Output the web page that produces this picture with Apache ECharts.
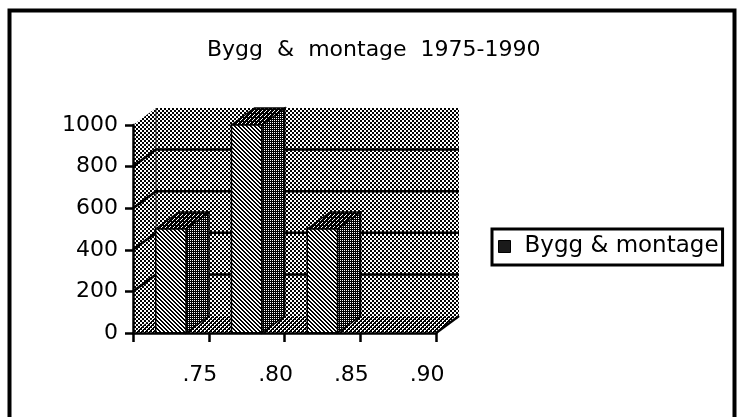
<!DOCTYPE html>
<html><head><meta charset="utf-8">
<script src="https://cdn.jsdelivr.net/npm/echarts@6/dist/echarts.min.js"></script>
<style>html,body{margin:0;padding:0;background:#fff}#c{width:739px;height:417px}</style>
</head><body><div id="c"></div>
<script>
// ---- data ----
const categories = ['.75', '.80', '.85', '.90'];
const values = [500, 1000, 500, 0];
const yMin = 0, yMax = 1000, yStep = 200;
const wallGridValues = [200, 400, 600, 800];
const seriesName = 'Bygg & montage';
const titleText = 'Bygg  &  montage  1975-1990';

// ---- style ----
const FONT = 'DejaVu Sans';
const DX = 23, DY = -17;      // 3D depth offset (pixels)
const BAR_RATIO = 0.4;

function tile(w, h, fn) {
  const c = document.createElement('canvas'); c.width = w; c.height = h;
  const g = c.getContext('2d');
  g.fillStyle = '#fff'; g.fillRect(0, 0, w, h);
  g.fillStyle = '#000';
  for (let y = 0; y < h; y++) for (let x = 0; x < w; x++) if (fn(x, y)) g.fillRect(x, y, 1, 1);
  return { image: c, repeat: 'repeat' };
}
const wallPat  = tile(4, 4, (x, y) => (x < 2) === (y < 2));
const floorPat = tile(4, 4, (x, y) => ((x < 2) === (y < 2)) || (x === 3 && y === 1) || (x === 1 && y === 3));
const frontPat = tile(4, 4, (x, y) => { const d = ((x - y) % 4 + 4) % 4; return d === 0 || d === 1; });
const sidePat  = tile(2, 2, (x, y) => !(x === 0 && y === 0));
const topPat   = tile(4, 4, (x, y) => !((x === 0 && y === 0) || (x === 2 && y === 2) || (x === 1 && y === 3)));

const chart = echarts.init(document.getElementById('c'), null, { renderer: 'canvas' });

function wallsRender(params, api) {
  const band = api.size([1, 0])[0];
  const n = categories.length;
  const L = api.coord([0, yMin])[0] - band / 2;
  const R = api.coord([n - 1, yMin])[0] + band / 2;
  const y0 = api.coord([0, yMin])[1];
  const yt = api.coord([0, yMax])[1];
  const children = [];
  children.push({ type: 'polygon', shape: { points: [[L, y0], [L, yt], [L + DX, yt + DY], [L + DX, y0 + DY]] }, style: { fill: wallPat, stroke: null } });
  children.push({ type: 'rect', shape: { x: L + DX, y: yt + DY, width: R - L, height: y0 - yt }, style: { fill: wallPat, stroke: null } });
  children.push({ type: 'polygon', shape: { points: [[L, y0], [R, y0], [R + DX, y0 + DY], [L + DX, y0 + DY]] }, style: { fill: floorPat, stroke: null } });
  children.push({ type: 'line', shape: { x1: L + DX, y1: yt + DY, x2: L + DX, y2: y0 + DY }, style: { stroke: '#333', lineWidth: 1 } });
  wallGridValues.forEach(v => {
    const yv = api.coord([0, v])[1];
    children.push({ type: 'polyline', shape: { points: [[L, yv], [L + DX, yv + DY], [R + DX, yv + DY]] }, style: { stroke: '#000', lineWidth: 2.5, fill: null } });
  });
  children.push({ type: 'line', shape: { x1: R, y1: y0, x2: R + DX, y2: y0 + DY }, style: { stroke: '#000', lineWidth: 2.5 } });
  return { type: 'group', children };
}

function barRender(params, api) {
  const v = api.value(1);
  if (!v) return null;
  const i = api.value(0);
  const band = api.size([1, 0])[0];
  const w = band * BAR_RATIO;
  const top = api.coord([i, v]);
  const bot = api.coord([i, yMin]);
  const xl = top[0] - w / 2, xr = top[0] + w / 2, yt = top[1], yb = bot[1];
  const st = { stroke: '#000', lineWidth: 1.5 };
  return {
    type: 'group', children: [
      { type: 'polygon', shape: { points: [[xr, yb], [xr, yt], [xr + DX, yt + DY], [xr + DX, yb + DY]] }, style: Object.assign({ fill: sidePat }, st) },
      { type: 'polygon', shape: { points: [[xl, yt], [xr, yt], [xr + DX, yt + DY], [xl + DX, yt + DY]] }, style: Object.assign({ fill: topPat }, st) },
      { type: 'rect', shape: { x: xl, y: yt, width: w, height: yb - yt }, style: Object.assign({ fill: frontPat }, st) }
    ]
  };
}

chart.setOption({
  animation: false,
  backgroundColor: '#fff',
  title: {
    text: titleText, left: 207, top: 39, padding: 0,
    textStyle: { fontFamily: FONT, fontSize: 22, fontWeight: 'normal', color: '#000' }
  },
  legend: {
    data: [{ name: seriesName, icon: 'rect', itemStyle: { color: '#1a1a1a', borderColor: '#000', borderWidth: 1 } }],
    left: 492, top: 229,
    padding: [6, 4, 7, 6],
    borderColor: '#000', borderWidth: 3,
    itemWidth: 12, itemHeight: 12,
    textStyle: { fontFamily: FONT, fontSize: 23, color: '#000', padding: [0, 0, 0, 9] }
  },
  grid: { left: 133, right: 303, top: 125, bottom: 84, containLabel: false },
  xAxis: {
    type: 'category', data: categories, boundaryGap: true, z: 5,
    axisLine: { show: true, lineStyle: { color: '#000', width: 2.5 } },
    axisTick: { show: true, length: 9, lineStyle: { color: '#000', width: 2.5 } },
    axisLabel: { fontFamily: FONT, fontSize: 22, color: '#000', margin: 31, padding: [0, 0, 0, 58] },
    splitLine: { show: false }
  },
  yAxis: {
    type: 'value', min: yMin, max: yMax, interval: yStep, z: 5,
    axisLine: { show: true, lineStyle: { color: '#000', width: 2.5 } },
    axisTick: { show: true, length: 8, lineStyle: { color: '#000', width: 2.5 } },
    axisLabel: { fontFamily: FONT, fontSize: 22, color: '#000', margin: 15, formatter: v => String(v) },
    splitLine: { show: false }
  },
  graphic: [{
    type: 'rect', z: 100, silent: true,
    shape: { x: 9.5, y: 10.5, width: 725, height: 430 },
    style: { fill: null, stroke: '#000', lineWidth: 4 }
  }],
  series: [
    { name: 'walls', type: 'custom', z: 1, renderItem: wallsRender, data: [[0, 0]], silent: true, clip: false },
    { name: seriesName, type: 'custom', z: 2, renderItem: barRender, clip: false,
      itemStyle: { color: '#1a1a1a' },
      data: values.map((v, i) => [i, v]) }
  ]
});
</script>
</body></html>
